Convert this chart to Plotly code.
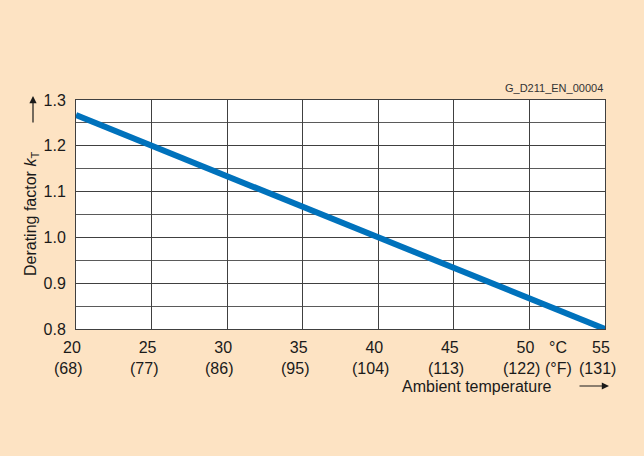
import plotly.graph_objects as go

# Data
temp_c = [20, 25, 30, 35, 40, 45, 50, 55]
k_t = [1.267, 1.200, 1.133, 1.067, 1.000, 0.933, 0.867, 0.800]
x_tick_vals = [20, 25, 30, 35, 40, 45, 50, 55]
x_tick_c = ["20", "25", "30", "35", "40", "45", "50", "55"]
x_tick_f = ["(68)", "(77)", "(86)", "(95)", "(104)", "(113)", "(122)", "(131)"]
y_tick_vals = [0.8, 0.9, 1.0, 1.1, 1.2, 1.3]
y_tick_text = ["0.8", "0.9", "1.0", "1.1", "1.2", "1.3"]

BG = "#FDE3C3"
GRID = "#404040"
FONT = "Liberation Sans, Arial, sans-serif"
TXT = "#1a1a1a"

PL, PR, PT, PB = 76, 605, 100, 329   # plot area in pixels
PW, PH = PR - PL, PB - PT


def px(xp):
    return (xp - PL) / PW


def py(yp):
    return (PB - yp) / PH


fig = go.Figure()
fig.add_trace(go.Scatter(
    x=temp_c, y=k_t, mode="lines",
    line=dict(color="#0072BC", width=6),
    hoverinfo="skip", showlegend=False,
))

fig.update_layout(
    width=644, height=456,
    paper_bgcolor=BG, plot_bgcolor="white",
    margin=dict(l=PL, r=644 - PR, t=PT, b=456 - PB, pad=0),
    font=dict(family=FONT, size=16, color=TXT),
    xaxis=dict(
        range=[20, 55], tickmode="array", tickvals=x_tick_vals, ticktext=x_tick_c,
        showgrid=True, gridcolor=GRID, gridwidth=1,
        showline=True, linecolor=GRID, linewidth=1, mirror=True,
        zeroline=False, ticks="", ticklabelstandoff=4, ticklabelshift=-4,
    ),
    yaxis=dict(
        range=[0.8, 1.3], tickmode="array", tickvals=y_tick_vals, ticktext=y_tick_text,
        showgrid=True, gridcolor=GRID, gridwidth=1,
        minor=dict(dtick=0.05, tick0=0.8, showgrid=True, gridcolor="#5a5a5a", gridwidth=1),
        showline=True, linecolor=GRID, linewidth=1, mirror=True,
        zeroline=False, ticks="", ticklabelstandoff=6,
    ),
)

# Fahrenheit tick row
for xv, t in zip(x_tick_vals, x_tick_f):
    fig.add_annotation(x=xv, xref="x", y=py(368), yref="paper", text=t,
                       showarrow=False, xshift=-8, font=dict(size=16, color=TXT),
                       yanchor="middle")

# Unit labels
fig.add_annotation(x=51.9, xref="x", y=py(347), yref="paper", text="°C",
                   showarrow=False, font=dict(size=16, color=TXT), yanchor="middle")
fig.add_annotation(x=51.9, xref="x", y=py(368), yref="paper", text="(°F)",
                   showarrow=False, font=dict(size=16, color=TXT), yanchor="middle")

# X axis title + arrow
fig.add_annotation(xref="paper", yref="paper", x=px(554), y=py(386),
                   text="Ambient temperature", showarrow=False,
                   font=dict(size=16, color=TXT), xanchor="right", yanchor="middle")
fig.add_annotation(xref="paper", yref="paper", x=px(609), y=py(386),
                   ax=-31, ay=0, showarrow=True, arrowhead=2, arrowsize=1.2,
                   arrowwidth=1.2, arrowcolor=TXT, text="")

# Y axis title + arrow
fig.add_annotation(xref="paper", yref="paper", x=px(31), y=py(214),
                   text="Derating factor <i>k</i><sub>T</sub>", textangle=-90,
                   showarrow=False, font=dict(size=16, color=TXT),
                   xanchor="center", yanchor="middle")
fig.add_annotation(xref="paper", yref="paper", x=px(33), y=py(96),
                   ax=0, ay=28, showarrow=True, arrowhead=2, arrowsize=1.2,
                   arrowwidth=1.2, arrowcolor=TXT, text="")

# Figure code
fig.add_annotation(xref="paper", yref="paper", x=1.0, y=py(88),
                   text="G_D211_EN_00004", showarrow=False,
                   font=dict(size=11, color="#333333"),
                   xanchor="right", yanchor="middle")

fig.write_html("out.html", config={"displayModeBar": False},
               post_script="document.body.style.margin='0';")
